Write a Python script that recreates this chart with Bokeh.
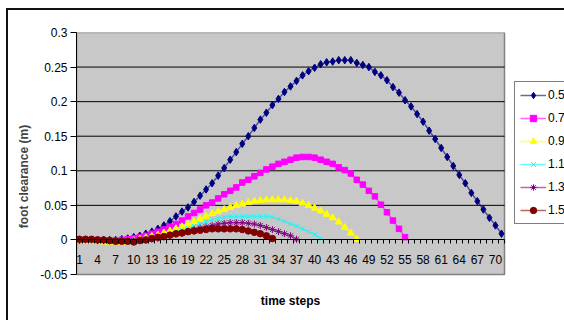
from bokeh.plotting import figure
from bokeh.models import (FixedTicker, Legend, LegendItem, Range1d,
                          InlineStyleSheet)
from bokeh.embed import file_html
from bokeh.resources import INLINE

# ---- data -------------------------------------------------------------
series_labels = ["0.5", "0.7", "0.9", "1.1", "1.3", "1.5"]

s05 = [0.000, 0.000, 0.000, 0.000, 0.000, 0.000, 0.000, 0.001, 0.002, 0.004,
       0.006, 0.009, 0.012, 0.016, 0.021, 0.027, 0.034, 0.041, 0.047, 0.055,
       0.064, 0.073, 0.082, 0.093, 0.104, 0.116, 0.127, 0.139, 0.150, 0.162,
       0.174, 0.184, 0.195, 0.204, 0.214, 0.222, 0.230, 0.238, 0.244, 0.249,
       0.254, 0.257, 0.258, 0.260, 0.260, 0.260, 0.256, 0.253, 0.250, 0.243,
       0.238, 0.231, 0.221, 0.213, 0.202, 0.193, 0.182, 0.171, 0.158, 0.146,
       0.133, 0.120, 0.107, 0.094, 0.082, 0.068, 0.056, 0.044, 0.032, 0.021,
       0.009]

s07 = [0.000, 0.000, 0.000, 0.000, -0.001, -0.001, -0.001, 0.000, 0.001, 0.002,
       0.004, 0.006, 0.009, 0.012, 0.015, 0.019, 0.023, 0.028, 0.034, 0.039,
       0.044, 0.050, 0.054, 0.060, 0.066, 0.071, 0.076, 0.083, 0.087, 0.092,
       0.097, 0.102, 0.106, 0.110, 0.113, 0.116, 0.119, 0.120, 0.120, 0.119,
       0.116, 0.113, 0.110, 0.105, 0.101, 0.096, 0.087, 0.080, 0.071, 0.063,
       0.051, 0.040, 0.028, 0.016, 0.004]

s09 = [-0.001, -0.002, -0.002, -0.002, -0.003, -0.003, -0.003, -0.003, -0.002, -0.001,
       0.001, 0.003, 0.005, 0.007, 0.010, 0.013, 0.016, 0.019, 0.022, 0.026,
       0.030, 0.034, 0.038, 0.041, 0.044, 0.047, 0.050, 0.052, 0.054, 0.056,
       0.057, 0.058, 0.058, 0.058, 0.058, 0.057, 0.056, 0.053, 0.050, 0.046,
       0.042, 0.037, 0.032, 0.026, 0.018, 0.010, 0.001]

s11 = [0.000, 0.000, -0.001, -0.001, -0.001, -0.001, -0.001, -0.001, 0.000, 0.000,
       0.001, 0.002, 0.003, 0.005, 0.007, 0.009, 0.012, 0.014, 0.017, 0.020,
       0.023, 0.026, 0.029, 0.031, 0.033, 0.034, 0.034, 0.034, 0.034, 0.034,
       0.034, 0.034, 0.033, 0.030, 0.027, 0.023, 0.020, 0.016, 0.012, 0.008,
       0.002]

s13 = [0.000, 0.000, 0.000, -0.001, -0.001, -0.001, -0.001, -0.001, -0.001, -0.001,
       0.000, 0.000, 0.001, 0.002, 0.004, 0.006, 0.008, 0.010, 0.012, 0.015,
       0.017, 0.019, 0.021, 0.023, 0.024, 0.025, 0.025, 0.025, 0.024, 0.023,
       0.021, 0.018, 0.015, 0.012, 0.009, 0.006, 0.001]

s15 = [0.001, 0.001, 0.001, 0.000, 0.000, -0.001, -0.002, -0.002, -0.002, -0.003,
       -0.001, 0.000, 0.002, 0.004, 0.005, 0.007, 0.009, 0.010, 0.012, 0.013,
       0.014, 0.015, 0.016, 0.016, 0.016, 0.016, 0.016, 0.015, 0.013, 0.011,
       0.009, 0.006, 0.002]

series_values = [s05, s07, s09, s11, s13, s15]
series_colors = ["#000080", "#FF00FF", "#FFFF00", "#00FFFF", "#800080", "#800000"]
series_markers = ["diamond", "square", "triangle", "x", "asterisk", "circle"]
marker_sizes = [7.5, 5.5, 7, 6, 7, 6.5]

n_steps = 71
y_min, y_max = -0.05, 0.3
y_ticks = [-0.05, 0.0, 0.05, 0.1, 0.15, 0.2, 0.25, 0.3]
y_tick_labels = ["-0.05", "0", "0.05", "0.1", "0.15", "0.2", "0.25", "0.3"]
x_ticks = [1, 4, 7, 10, 13, 16, 19, 22, 25, 28, 31, 34, 37, 40, 43, 46, 49, 52,
           55, 58, 61, 64, 67, 70]
x_tick_labels = ["1", "4", "7", "10", "13", "16", "19", "22", "25", "28", "31",
                 "34", "37", "40", "43", "46", "49", "52", "55", "58", "61",
                 "64", "67", "70"]

FONT = "Liberation Sans"

# ---- layout geometry (pixels) ----------------------------------------
W, H = 564, 320
left, top = 76, 32
area_w, area_h = 428, 242          # grey plot area size
x_lo, x_hi = 0.5, n_steps + 0.5
px_per_x = area_w / (x_hi - x_lo)
px_per_y = area_h / (y_max - y_min)
x_end = x_lo + (W - left) / px_per_x
y_start = y_max - (H - top) / px_per_y

# outer chart-area border (left and top edges visible in the window)
border_css = InlineStyleSheet(css="""
:host::after {
  content: "";
  position: absolute;
  left: 6px; top: 8px;
  width: 558px; height: 312px;
  border-left: 2px solid #111;
  border-top: 2px solid #111;
  box-sizing: border-box;
  pointer-events: none;
}
""")

# ---- figure -----------------------------------------------------------
p = figure(width=W, height=H,
           x_range=Range1d(x_lo, x_end), y_range=Range1d(y_start, y_max),
           output_backend="svg", toolbar_location=None,
           min_border_left=left, min_border_right=0,
           min_border_top=top, min_border_bottom=0,
           background_fill_color="white", border_fill_color="white",
           stylesheets=[border_css])
p.outline_line_color = None
p.xgrid.visible = False
p.ygrid.visible = False

# grey plot area with its border
p.quad(left=[x_lo], right=[x_hi], bottom=[y_min], top=[y_max],
       fill_color="#C8C8C8", line_color="#808080", line_width=1.5)

# horizontal gridlines
grid_y = [t for t in y_ticks if 0 < t < y_max]
p.segment(x0=[x_lo] * len(grid_y), x1=[x_hi] * len(grid_y), y0=grid_y, y1=grid_y,
          line_color="black", line_width=1)

# y axis
ya = p.yaxis[0]
ya.bounds = (y_min, y_max)
ya.ticker = FixedTicker(ticks=y_ticks)
ya.major_label_overrides = dict(zip(y_ticks, y_tick_labels))
ya.axis_line_color = "black"
ya.major_tick_out = 6
ya.major_tick_in = 0
ya.minor_tick_out = 0
ya.minor_tick_in = 0
ya.major_label_standoff = 3
ya.major_label_text_font = FONT
ya.major_label_text_font_size = "12px"
ya.major_label_text_color = "black"
ya.axis_label = "foot clearance (m)"
ya.axis_label_text_font = FONT
ya.axis_label_text_font_size = "12px"
ya.axis_label_text_font_style = "bold"
ya.axis_label_standoff = 6

# x axis (category axis crossing at y = 0)
xa = p.xaxis[0]
xa.fixed_location = 0
xa.bounds = (x_lo, x_hi)
xa.ticker = FixedTicker(ticks=x_ticks,
                        minor_ticks=[i + 0.5 for i in range(0, n_steps + 1)])
xa.major_label_overrides = dict(zip(x_ticks, x_tick_labels))
xa.axis_line_color = "black"
xa.major_tick_out = 0
xa.major_tick_in = 0
xa.minor_tick_out = 4
xa.minor_tick_in = 0
xa.minor_tick_line_color = "black"
xa.major_label_standoff = 11
xa.major_label_text_font = FONT
xa.major_label_text_font_size = "12px"
xa.major_label_text_color = "black"
xa.axis_label = "time steps"
xa.axis_label_standoff = 27
xa.axis_label_text_font = FONT
xa.axis_label_text_font_size = "12px"
xa.axis_label_text_font_style = "bold"
xa.axis_label_text_color = "black"

# series
items = []
for lab, vals, col, mk, sz in zip(series_labels, series_values, series_colors,
                                  series_markers, marker_sizes):
    xs = list(range(1, len(vals) + 1))
    lr = p.line(xs, vals, line_color=col, line_width=1.5, line_alpha=0.6)
    sr = p.scatter(xs, vals, marker=mk, size=sz, fill_color=col, line_color=col,
                   line_width=1)
    items.append(LegendItem(label=lab, renderers=[lr, sr]))

legend_top_px, legend_h = 83, 141
legend = Legend(items=items,
                location=(514 - left, H - (legend_top_px + legend_h)),
                glyph_width=26, glyph_height=16, label_height=16,
                spacing=7, padding=5, margin=0, label_standoff=2,
                border_line_color="black", border_line_width=1,
                background_fill_color="white", background_fill_alpha=1,
                label_text_font=FONT, label_text_font_size="12px",
                label_text_color="black")
p.add_layout(legend)

open("out.html", "w").write(file_html(p, INLINE))
